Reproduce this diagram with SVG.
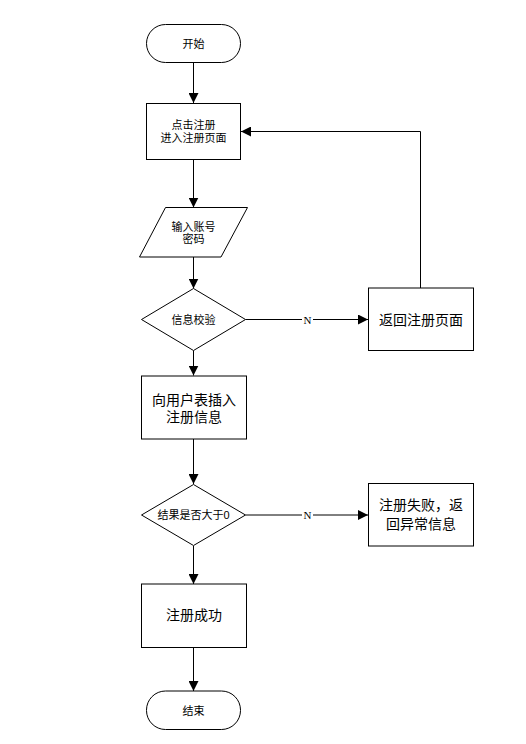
<svg xmlns="http://www.w3.org/2000/svg" width="526" height="744" viewBox="0 0 526 744">
<style>
.s{fill:#fff;stroke:#000;stroke-width:1}
.l{fill:none;stroke:#000;stroke-width:1}
text{font-family:"Liberation Sans","Noto Sans CJK SC",sans-serif;fill:#000;text-anchor:middle;dominant-baseline:central}
.sm{font-size:11px}
.lg{font-size:14px}
.n{font-family:"Liberation Serif",serif;font-size:11px}
</style>
<defs>
<marker id="a" viewBox="0 0 10 10" refX="10" refY="5" markerWidth="10" markerHeight="10" markerUnits="userSpaceOnUse" orient="auto">
<path d="M0,0L10,5L0,10z" fill="#000"/>
</marker>
</defs>
<rect width="526" height="744" fill="#fff"/>
<g id="connectors">
<path class="l" d="M193.5,62.5V103" marker-end="url(#a)"/>
<path class="l" d="M193.5,160V207.5" marker-end="url(#a)"/>
<path class="l" d="M193.5,257V288.5" marker-end="url(#a)"/>
<path class="l" d="M245.5,319.5H368" marker-end="url(#a)"/>
<path class="l" d="M420.5,288V131.5H241" marker-end="url(#a)"/>
<path class="l" d="M193.5,350.5V375.5" marker-end="url(#a)"/>
<path class="l" d="M193.5,439V484" marker-end="url(#a)"/>
<path class="l" d="M245.5,515H368" marker-end="url(#a)"/>
<path class="l" d="M193.5,546V584" marker-end="url(#a)"/>
<path class="l" d="M193.5,647.5V691" marker-end="url(#a)"/>
<rect x="302" y="313" width="11" height="13" fill="#fff"/>
<text class="n" x="307.5" y="319.5">N</text>
<rect x="302" y="508.5" width="11" height="13" fill="#fff"/>
<text class="n" x="307.5" y="515">N</text>
</g>
<g id="start">
<rect class="s" x="146.5" y="24.5" width="94" height="38" rx="19" ry="19"/>
<text class="sm" x="193.5" y="43.5">开始</text>
</g>
<g id="click">
<rect class="s" x="146.5" y="103.5" width="94" height="56"/>
<text class="sm" x="193.5" y="124.5">点击注册</text>
<text class="sm" x="193.5" y="137.5">进入注册页面</text>
</g>
<g id="input">
<path class="s" d="M165.5,207.5H247.5L221,257H139.5Z"/>
<text class="sm" x="193.5" y="226.5">输入账号</text>
<text class="sm" x="193.5" y="238.5">密码</text>
</g>
<g id="verify">
<path class="s" d="M193.5,288.5L245.5,319.5L193.5,350.5L141.5,319.5Z"/>
<text class="sm" x="193.5" y="319.5">信息校验</text>
</g>
<g id="back">
<rect class="s" x="368.5" y="288" width="105" height="62.5"/>
<text class="lg" x="421" y="320">返回注册页面</text>
</g>
<g id="insert">
<rect class="s" x="141.5" y="376" width="105" height="63"/>
<text class="lg" x="194" y="399.5">向用户表插入</text>
<text class="lg" x="194" y="417">注册信息</text>
</g>
<g id="check">
<path class="s" d="M193.5,484.5L245.5,515L193.5,545.5L141.5,515Z"/>
<text class="sm" x="193.5" y="514.5">结果是否大于0</text>
</g>
<g id="fail">
<rect class="s" x="368.5" y="483.5" width="105" height="62.5"/>
<text class="lg" x="421" y="505">注册失败，返</text>
<text class="lg" x="421" y="523.5">回异常信息</text>
</g>
<g id="success">
<rect class="s" x="141.5" y="584" width="105" height="63.5"/>
<text class="lg" x="194" y="615">注册成功</text>
</g>
<g id="end">
<rect class="s" x="146.5" y="691" width="94" height="38.5" rx="19" ry="19"/>
<text class="sm" x="193.5" y="710.5">结束</text>
</g>
</svg>
